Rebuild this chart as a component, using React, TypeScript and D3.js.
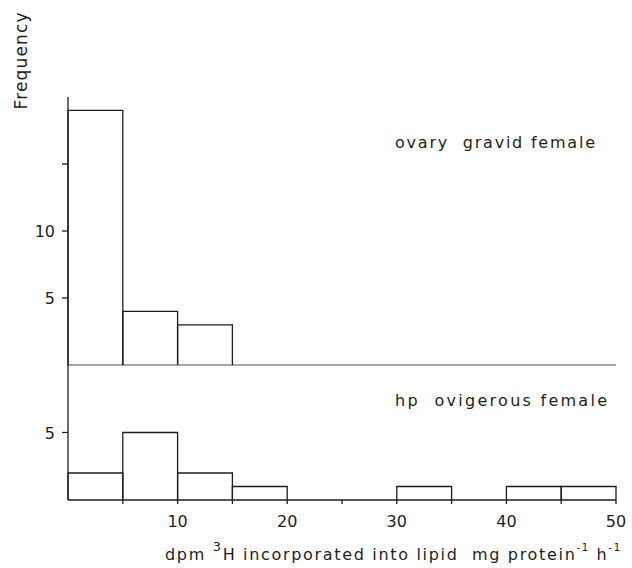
import React, { useEffect, useRef } from 'react';
import * as d3 from 'd3';

// bin edges, 5 dpm wide
const binStarts = [0, 5, 10, 15, 20, 25, 30, 35, 40, 45];
const ovaryCounts = [19, 4, 3, 0, 0, 0, 0, 0, 0, 0];
const hpCounts = [2, 5, 2, 1, 0, 0, 1, 0, 1, 1];
const xTickLabels = [10, 20, 30, 40, 50];
const topYTicks = [5, 10, 15];
const topYLabels = [5, 10];
const bottomYTicks = [5];

const App: React.FC = () => {
  const svgRef = useRef<SVGSVGElement>(null);

  useEffect(() => {
    if (!svgRef.current) return;
    const svg = d3.select(svgRef.current);
    svg.selectAll('*').remove();

    const font = '"DejaVu Sans", sans-serif';
    const ink = '#1e1e1e';
    const binW = 5;

    const x = d3.scaleLinear().domain([0, 50]).range([68, 616]);
    const yTop = d3.scaleLinear().domain([0, 20]).range([365, 97]);
    const yBot = d3.scaleLinear().domain([0, 10]).range([500, 365]);

    const drawHist = (counts: number[], y: d3.ScaleLinear<number, number>) => {
      const g = svg.append('g');
      counts.forEach((c, i) => {
        if (c <= 0) return;
        const x0 = x(binStarts[i]);
        const x1 = x(binStarts[i] + binW);
        g.append('path')
          .attr('d', `M${x0},${y(0)}V${y(c)}H${x1}V${y(0)}`)
          .attr('fill', 'none')
          .attr('stroke', ink)
          .attr('stroke-width', 1.3);
      });
      return g;
    };

    const label = (tx: number, ty: number, t: string | number, anchor = 'middle') =>
      svg.append('text')
        .attr('x', tx).attr('y', ty)
        .attr('text-anchor', anchor)
        .style('font-family', font).style('font-size', '16px').style('fill', ink)
        .text(t);

    // top panel
    svg.append('line')
      .attr('x1', x(0)).attr('x2', x(50))
      .attr('y1', yTop(0)).attr('y2', yTop(0))
      .attr('stroke', '#8a8a8a').attr('stroke-width', 1.5);
    svg.append('line')
      .attr('x1', x(0)).attr('x2', x(0))
      .attr('y1', yTop(0)).attr('y2', yTop(20))
      .attr('stroke', ink).attr('stroke-width', 1.3);
    topYTicks.forEach(t => {
      svg.append('line')
        .attr('x1', x(0) - 6).attr('x2', x(0))
        .attr('y1', yTop(t)).attr('y2', yTop(t))
        .attr('stroke', ink).attr('stroke-width', 1.3);
    });
    topYLabels.forEach(t => label(x(0) - 13, yTop(t) + 6, t, 'end'));
    drawHist(ovaryCounts, yTop);

    // bottom panel
    svg.append('line')
      .attr('x1', x(0)).attr('x2', x(0))
      .attr('y1', yBot(0)).attr('y2', yBot(10))
      .attr('stroke', ink).attr('stroke-width', 1.3);
    bottomYTicks.forEach(t => {
      svg.append('line')
        .attr('x1', x(0) - 6).attr('x2', x(0))
        .attr('y1', yBot(t)).attr('y2', yBot(t))
        .attr('stroke', ink).attr('stroke-width', 1.3);
      label(x(0) - 13, yBot(t) + 6, t, 'end');
    });
    svg.append('line')
      .attr('x1', x(0)).attr('x2', x(50))
      .attr('y1', yBot(0)).attr('y2', yBot(0))
      .attr('stroke', ink).attr('stroke-width', 1.3);
    d3.range(5, 51, 5).forEach(t => {
      svg.append('line')
        .attr('x1', x(t)).attr('x2', x(t))
        .attr('y1', yBot(0)).attr('y2', yBot(0) + 4)
        .attr('stroke', ink).attr('stroke-width', 1.3);
    });
    xTickLabels.forEach(t => label(x(t), 527, t));
    drawHist(hpCounts, yBot);

    // panel labels
    svg.append('text')
      .attr('x', 395).attr('y', 148)
      .attr('textLength', 200).attr('lengthAdjust', 'spacing')
      .style('font-family', font).style('font-size', '16px').style('fill', ink)
      .attr('xml:space', 'preserve')
      .text('ovary  gravid female');
    svg.append('text')
      .attr('x', 395).attr('y', 406)
      .attr('textLength', 212).attr('lengthAdjust', 'spacing')
      .style('font-family', font).style('font-size', '16px').style('fill', ink)
      .attr('xml:space', 'preserve')
      .text('hp  ovigerous female');

    // axis titles
    svg.append('text')
      .attr('transform', 'translate(27,61) rotate(-90)')
      .attr('text-anchor', 'middle')
      .attr('textLength', 97).attr('lengthAdjust', 'spacing')
      .style('font-family', font).style('font-size', '17px').style('fill', ink)
      .text('Frequency');

    const xt = svg.append('text')
      .attr('x', 165).attr('y', 560)
      .attr('textLength', 455).attr('lengthAdjust', 'spacing')
      .style('font-family', font).style('font-size', '16px').style('fill', ink)
      .attr('xml:space', 'preserve');
    xt.append('tspan').text('dpm ');
    xt.append('tspan').attr('dy', -9).style('font-size', '13px').text('3');
    xt.append('tspan').attr('dy', 9).text('H incorporated into lipid  mg protein');
    xt.append('tspan').attr('dy', -9).style('font-size', '10px').text('-1');
    xt.append('tspan').attr('dy', 9).text(' h');
    xt.append('tspan').attr('dy', -9).style('font-size', '10px').text('-1');
  }, []);

  return (
    <div style={{ position: 'fixed', top: 0, left: 0, background: '#fff', width: 632, height: 568 }}>
      <svg ref={svgRef} width={632} height={568} style={{ display: 'block' }} />
    </div>
  );
};

export default App;
